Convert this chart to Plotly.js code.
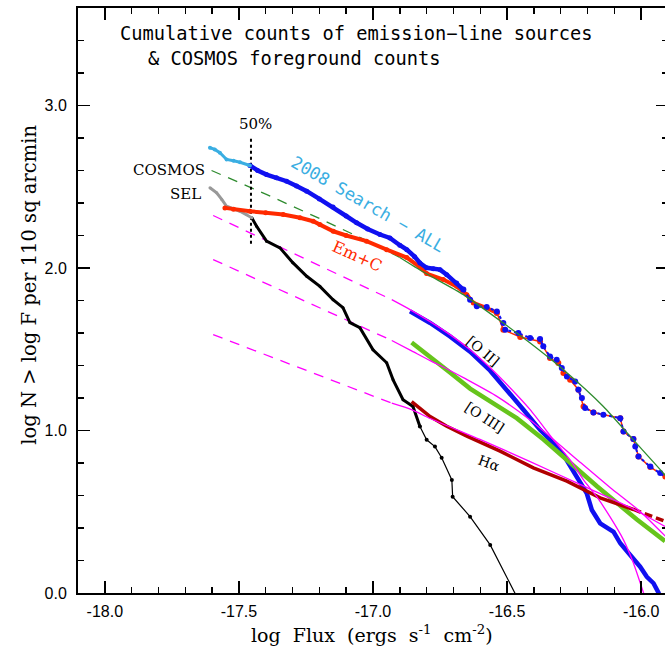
<!DOCTYPE html>
<html>
<head>
<meta charset="utf-8">
<script src="https://cdn.plot.ly/plotly-3.0.1.min.js"></script>
<style>
  html, body { margin: 0; padding: 0; overflow: hidden; background: #fff; }
  #chart { width: 668px; height: 648px; }
</style>
</head>
<body>
<div id="chart"></div>
<script>
// ---------------- data (log flux, log N) ----------------
// 2008 Search - ALL
const allLightX = [-17.608, -17.590, -17.571, -17.546, -17.520, -17.496, -17.459];
const allLightY = [2.740, 2.730, 2.709, 2.668, 2.660, 2.651, 2.631];
const allDenseX = [-17.459, -17.430, -17.397, -17.360, -17.322, -17.285, -17.247, -17.200, -17.149, -17.100, -17.061, -17.020, -16.974, -16.937, -16.900, -16.874, -16.845, -16.825, -16.800, -16.775, -16.750, -16.725, -16.688, -16.663];
const allDenseY = [2.631, 2.600, 2.575, 2.556, 2.534, 2.505, 2.473, 2.425, 2.375, 2.320, 2.278, 2.240, 2.206, 2.185, 2.140, 2.113, 2.070, 2.031, 2.001, 1.995, 1.990, 1.959, 1.908, 1.867];
const allSparseX = [-16.663, -16.638, -16.613, -16.576, -16.538, -16.514, -16.507, -16.458, -16.414, -16.377, -16.365, -16.340, -16.315, -16.296, -16.277, -16.246, -16.234, -16.221, -16.209, -16.178, -16.141, -16.078, -16.066, -16.029, -16.022, -16.010, -15.966, -15.929, -15.899];
const allSparseY = [1.867, 1.805, 1.764, 1.760, 1.733, 1.662, 1.620, 1.600, 1.569, 1.563, 1.518, 1.456, 1.436, 1.384, 1.333, 1.302, 1.251, 1.200, 1.138, 1.111, 1.097, 1.076, 0.994, 0.947, 0.901, 0.840, 0.778, 0.738, 0.702];

// Em+C
const emcDenseX = [-17.552, -17.520, -17.459, -17.400, -17.335, -17.272, -17.223, -17.198, -17.148, -17.100, -17.024, -16.949, -16.874, -16.825, -16.800, -16.738, -16.688, -16.650, -16.626, -16.576, -16.538];
const emcDenseY = [2.370, 2.362, 2.349, 2.340, 2.329, 2.309, 2.288, 2.267, 2.226, 2.200, 2.165, 2.113, 2.064, 2.006, 1.966, 1.929, 1.887, 1.836, 1.785, 1.754, 1.723];
const emcSparseX = [-16.538, -16.514, -16.451, -16.377, -16.340, -16.309, -16.290, -16.265, -16.234, -16.215, -16.178, -16.078, -16.066, -16.029, -16.010, -15.966, -15.910];
const emcSparseY = [1.723, 1.620, 1.575, 1.548, 1.446, 1.415, 1.354, 1.312, 1.251, 1.148, 1.111, 1.076, 0.994, 0.947, 0.840, 0.775, 0.717];

// SEL
const selGrayX = [-17.608, -17.583, -17.564, -17.546, -17.496, -17.471, -17.452];
const selGrayY = [2.494, 2.463, 2.422, 2.380, 2.349, 2.329, 2.309];
const selBlackX = [-17.452, -17.434, -17.397, -17.347, -17.299, -17.247, -17.198, -17.149, -17.112, -17.086, -17.049, -17.000, -16.949, -16.925, -16.888, -16.851, -16.825];
const selBlackY = [2.309, 2.257, 2.165, 2.124, 2.033, 1.949, 1.887, 1.805, 1.756, 1.664, 1.633, 1.497, 1.417, 1.312, 1.189, 1.148, 1.025];
const selSparseX = [-16.825, -16.800, -16.769, -16.744, -16.706, -16.703, -16.638, -16.563, -16.440];
const selSparseY = [1.025, 0.943, 0.901, 0.832, 0.696, 0.593, 0.470, 0.296, -0.100];

// COSMOS foreground counts
const cosmosDashX = [-17.602, -17.400, -17.200, -17.000, -16.900];
const cosmosDashY = [2.600, 2.455, 2.305, 2.150, 2.065];
const cosmosX = [-16.900, -16.812, -16.663, -16.514, -16.414, -16.290, -16.141, -16.029, -15.917, -15.900];
const cosmosY = [2.065, 1.975, 1.836, 1.661, 1.538, 1.374, 1.148, 0.942, 0.737, 0.700];

// [O II]
const o2X = [-16.862, -16.787, -16.713, -16.638, -16.563, -16.501, -16.439, -16.377, -16.327, -16.290, -16.240, -16.203, -16.184, -16.153, -16.103, -16.078, -16.041, -16.004, -15.979, -15.954, -15.935, -15.925];
const o2Y = [1.733, 1.662, 1.579, 1.485, 1.368, 1.251, 1.128, 1.004, 0.922, 0.850, 0.717, 0.614, 0.511, 0.429, 0.376, 0.306, 0.234, 0.162, 0.100, 0.060, 0.000, -0.050];
const o2FitDashX = [-17.596, -16.930];
const o2FitDashY = [2.323, 1.805];
const o2FitX = [-16.930, -16.862, -16.787, -16.713, -16.638, -16.563, -16.489, -16.414, -16.327, -16.265, -16.215, -16.165, -16.116, -16.066, -16.029, -15.991, -15.959];
const o2FitY = [1.805, 1.744, 1.670, 1.590, 1.497, 1.386, 1.263, 1.128, 0.943, 0.819, 0.696, 0.591, 0.468, 0.327, 0.185, 0.000, -0.166];

// [O III]
const o3X = [-16.856, -16.787, -16.713, -16.638, -16.538, -16.464, -16.364, -16.253, -16.165, -16.091, -16.016, -15.911];
const o3Y = [1.542, 1.449, 1.357, 1.258, 1.155, 1.076, 0.945, 0.780, 0.657, 0.555, 0.452, 0.319];
const o3FitDashX = [-17.596, -16.930];
const o3FitDashY = [2.052, 1.554];
const o3FitX = [-16.930, -16.856, -16.787, -16.725, -16.663, -16.538, -16.414, -16.327, -16.228, -16.116, -16.004, -15.910];
const o3FitY = [1.554, 1.490, 1.430, 1.380, 1.325, 1.210, 1.065, 0.945, 0.805, 0.649, 0.502, 0.350];

// H-alpha
const haX = [-16.856, -16.825, -16.787, -16.725, -16.650, -16.526, -16.402, -16.277, -16.153, -16.029];
const haY = [1.178, 1.135, 1.086, 1.026, 0.965, 0.873, 0.770, 0.688, 0.586, 0.514];
const haTailX = [-16.029, -15.985, -15.911];
const haTailY = [0.514, 0.489, 0.442];
const haFitDashX = [-17.596, -16.930];
const haFitDashY = [1.590, 1.168];
const haFitX = [-16.930, -16.856, -16.787, -16.601, -16.414, -16.228, -16.041, -15.911];
const haFitY = [1.169, 1.129, 1.074, 0.945, 0.809, 0.668, 0.526, 0.409];

// 50% completeness marker
const fiftyX = [-17.455, -17.455];
const fiftyY = [2.15, 2.80];

// ticks
const xTickVals = [-18.0, -17.5, -17.0, -16.5, -16.0];
const xTickText = ['-18.0', '-17.5', '-17.0', '-16.5', '-16.0'];
const yTickVals = [0, 1, 2, 3];
const yTickText = ['0.0', '1.0', '2.0', '3.0'];

// ---------------- styles ----------------
const BLUE = '#1010f0', LBLUE = '#3aaee2', RED = '#ff2a00', GREEN = '#66c41c',
      DRED = '#b00000', MAG = '#ff00ff', CGREEN = '#2e8b2e';

function tr(x, y, opts) {
  return Object.assign({x: x, y: y, type: 'scatter', mode: 'lines', hoverinfo: 'skip', showlegend: false}, opts);
}

const traces = [
  tr(o2FitDashX, o2FitDashY, {line: {color: MAG, width: 1.3, dash: '10px,8px'}}),
  tr(o3FitDashX, o3FitDashY, {line: {color: MAG, width: 1.3, dash: '10px,8px'}}),
  tr(haFitDashX, haFitDashY, {line: {color: MAG, width: 1.3, dash: '10px,8px'}}),
  tr(cosmosDashX, cosmosDashY, {line: {color: CGREEN, width: 1.3, dash: '10px,8px'}}),
  tr(fiftyX, fiftyY, {line: {color: '#000', width: 2, dash: 'dot'}}),
  tr(selSparseX, selSparseY, {mode: 'lines+markers', line: {color: '#000', width: 1.2}, marker: {color: '#000', size: 4}}),
  tr(selBlackX, selBlackY, {mode: 'lines+markers', line: {color: '#000', width: 3}, marker: {color: '#000', size: 3}}),
  tr(selGrayX, selGrayY, {mode: 'lines+markers', line: {color: '#999999', width: 3}, marker: {color: '#999999', size: 3}}),
  tr(emcSparseX, emcSparseY, {mode: 'lines+markers', line: {color: RED, width: 1.5}, marker: {color: RED, size: 6}}),
  tr(emcDenseX, emcDenseY, {mode: 'lines+markers', line: {color: RED, width: 4}, marker: {color: RED, size: 5}}),
  tr(allSparseX, allSparseY, {mode: 'lines+markers', line: {color: BLUE, width: 2, dash: 'dot'}, marker: {color: BLUE, size: 6}}),
  tr(allDenseX, allDenseY, {mode: 'lines+markers', line: {color: BLUE, width: 4.5}, marker: {color: BLUE, size: 5}}),
  tr(allLightX, allLightY, {mode: 'lines+markers', line: {color: LBLUE, width: 3}, marker: {color: LBLUE, size: 4}}),
  tr(o2X, o2Y, {line: {color: BLUE, width: 4.5}}),
  tr(o3X, o3Y, {line: {color: GREEN, width: 4.5}}),
  tr(haX, haY, {line: {color: DRED, width: 3.5}}),
  tr(haTailX, haTailY, {line: {color: DRED, width: 3.5, dash: '8px,4px'}}),
  tr(o2FitX, o2FitY, {line: {color: MAG, width: 1.3, shape: 'spline', smoothing: 0.6}}),
  tr(o3FitX, o3FitY, {line: {color: MAG, width: 1.3, shape: 'spline', smoothing: 0.6}}),
  tr(haFitX, haFitY, {line: {color: MAG, width: 1.3, shape: 'spline', smoothing: 0.6}}),
  tr(cosmosX, cosmosY, {line: {color: CGREEN, width: 1.3, shape: 'spline', smoothing: 0.6}})
];

const SERIF = 'DejaVu Serif, serif';
const MONO = 'DejaVu Sans Mono, monospace';
const SP = '\u00a0 ';

const annotations = [
  {xref: 'paper', yref: 'paper', x: 0.0678, y: 0.9564, xanchor: 'left', yanchor: 'middle', showarrow: false,
   text: 'Cumulative counts of emission\u2212line sources', font: {family: MONO, size: 18.7, color: '#000'}},
  {xref: 'paper', yref: 'paper', x: 0.1153, y: 0.9137, xanchor: 'left', yanchor: 'middle', showarrow: false,
   text: '& COSMOS foreground counts', font: {family: MONO, size: 18.7, color: '#000'}},
  {xref: 'paper', yref: 'paper', x: 0.4975, y: -0.070, xanchor: 'center', yanchor: 'middle', showarrow: false,
   text: 'log' + SP + 'Flux' + SP + '(ergs' + SP + 's<sup>-1</sup>' + SP + 'cm<sup>-2</sup>)', font: {family: SERIF, size: 19, color: '#000'}},
  {xref: 'paper', yref: 'paper', x: -0.0814, y: 0.527, xanchor: 'center', yanchor: 'middle', showarrow: false, textangle: -90,
   text: 'log N &gt; log F per 110 sq arcmin', font: {family: SERIF, size: 19.5, color: '#000'}},
  {x: -17.619, y: 2.606, xanchor: 'right', yanchor: 'middle', showarrow: false, text: 'COSMOS', font: {family: SERIF, size: 15, color: '#000'}},
  {x: -17.633, y: 2.458, xanchor: 'right', yanchor: 'middle', showarrow: false, text: 'SEL', font: {family: SERIF, size: 15, color: '#000'}},
  {x: -17.438, y: 2.889, xanchor: 'center', yanchor: 'middle', showarrow: false, text: '50%', font: {family: SERIF, size: 15, color: '#000'}},
  {x: -17.019, y: 2.392, xanchor: 'center', yanchor: 'middle', showarrow: false, textangle: 30, text: '2008 Search \u2212 ALL', font: {family: MONO, size: 17, color: LBLUE}},
  {x: -17.056, y: 2.071, xanchor: 'center', yanchor: 'middle', showarrow: false, textangle: 24, text: 'Em+C', font: {family: SERIF, size: 16, color: RED}},
  {x: -16.590, y: 1.489, xanchor: 'center', yanchor: 'middle', showarrow: false, textangle: 40, text: '[O II]', font: {family: SERIF, size: 14, color: '#000'}},
  {x: -16.586, y: 1.083, xanchor: 'center', yanchor: 'middle', showarrow: false, textangle: 33, text: '[O III]', font: {family: SERIF, size: 14, color: '#000'}},
  {x: -16.568, y: 0.797, xanchor: 'center', yanchor: 'middle', showarrow: false, textangle: 20, text: 'H\u03b1', font: {family: SERIF, size: 14, color: '#000'}}
];

const axisCommon = {
  showline: true, linecolor: '#000', linewidth: 2, mirror: 'allticks',
  ticks: 'inside', ticklen: 12, tickwidth: 1.5, tickcolor: '#000',
  showgrid: false, zeroline: false, fixedrange: true,
  tickfont: {family: 'Liberation Sans, Arial, sans-serif', size: 16, color: '#000'}
};

const layout = {
  width: 668, height: 648,
  margin: {l: 78, r: 0, t: 8, b: 55, pad: 0},
  paper_bgcolor: '#fff', plot_bgcolor: '#fff',
  showlegend: false,
  xaxis: Object.assign({}, axisCommon, {
    range: [-18.1, -15.9], tickmode: 'array', tickvals: xTickVals, ticktext: xTickText,
    ticklabelstandoff: 3,
    minor: {tick0: -18, dtick: 0.1, ticks: 'inside', ticklen: 6, tickwidth: 1.5, tickcolor: '#000'}
  }),
  yaxis: Object.assign({}, axisCommon, {
    range: [0, 3.6], tickmode: 'array', tickvals: yTickVals, ticktext: yTickText,
    ticklabelstandoff: 6,
    minor: {tick0: 0, dtick: 0.2, ticks: 'inside', ticklen: 6, tickwidth: 1.5, tickcolor: '#000'}
  }),
  annotations: annotations
};

Plotly.newPlot('chart', traces, layout, {displayModeBar: false, staticPlot: true});
</script>
</body>
</html>
